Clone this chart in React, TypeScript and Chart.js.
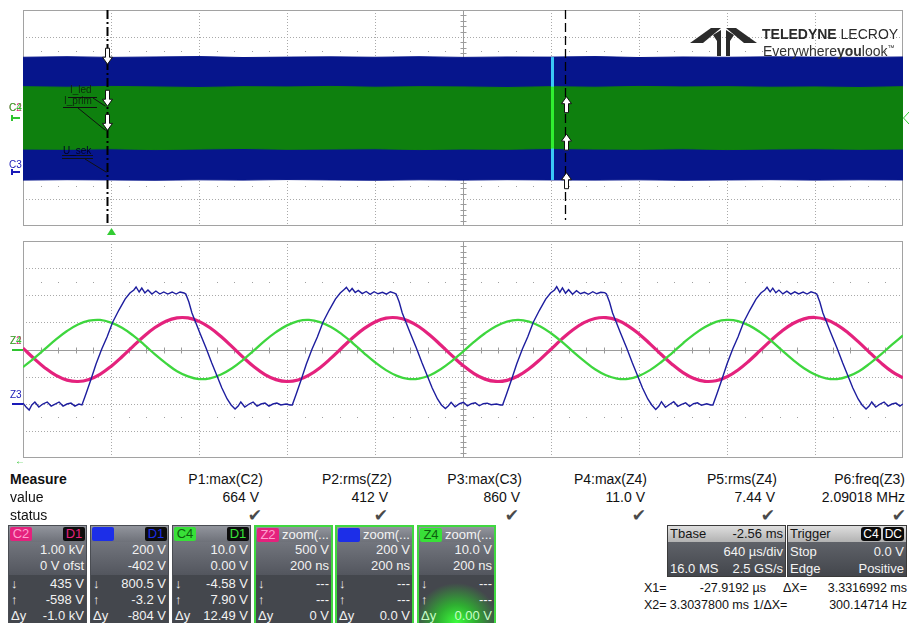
import React, { useEffect, useRef } from "react";
import { Chart, registerables } from "chart.js";

Chart.register(...registerables);

// ================= Acquisition window (C2, C3, C4) — time in µs, 640 µs/div =================
const acqTime = [-640, -320, 0, 320, 640, 960, 1280, 1600, 1920, 2240, 2560, 2880, 3200, 3520, 3840, 4160, 4480, 4800, 5120, 5440, 5760];
const c2Max = [588, 592, 585, 590, 594, 587, 591, 589, 593, 586, 590, 592, 588, 591, 585, 589, 593, 587, 590, 588, 591];
const c2Min = [-596, -592, -599, -594, -590, -597, -593, -598, -591, -595, -596, -592, -598, -594, -590, -597, -593, -596, -592, -595, -594];
const c3Max = [852, 856, 851, 854, 857, 850, 853, 855, 852, 856, 851, 854, 853, 857, 850, 854, 852, 855, 853, 851, 854];
const c3Min = [-58, -55, -57, -59, -56, -58, -54, -57, -59, -56, -58, -55, -57, -58, -56, -59, -57, -55, -58, -56, -57];
const c4Max = [11.6, 11.4, 11.7, 11.5, 11.3, 11.6, 11.5, 11.7, 11.4, 11.6, 11.5, 11.3, 11.6, 11.4, 11.7, 11.5, 11.6, 11.4, 11.5, 11.3, 11.6];
const c4Min = [-11.5, -11.6, -11.4, -11.7, -11.5, -11.3, -11.6, -11.5, -11.4, -11.7, -11.5, -11.6, -11.3, -11.5, -11.6, -11.4, -11.7, -11.5, -11.4, -11.6, -11.5];

const triggerAt = 0; // µs
const cursorX1 = -27.9192; // µs
const cursorX2 = 3303.78; // µs
const zoomAt = 3207; // µs, position of the zoom window
// cursor read-outs for C2, C3, C4 (↓ at X1, ↑ at X2)
const atX1 = [435, 800.5, -4.58];
const atX2 = [-598, -3.2, 7.9];

// ================= Zoom traces (Z2, Z3, Z4) — time in ns, 200 ns/div =================
const zoomTime = [0, 25, 50, 75, 100, 125, 150, 175, 200, 225, 250, 275, 300, 325, 350, 375, 400, 425, 450, 475, 500, 525, 550, 575, 600, 625, 650, 675, 700, 725, 750, 775, 800, 825, 850, 875, 900, 925, 950, 975, 1000, 1025, 1050, 1075, 1100, 1125, 1150, 1175, 1200, 1225, 1250, 1275, 1300, 1325, 1350, 1375, 1400, 1425, 1450, 1475, 1500, 1525, 1550, 1575, 1600, 1625, 1650, 1675, 1700, 1725, 1750, 1775, 1800, 1825, 1850, 1875, 1900, 1925, 1950, 1975, 2000];
const z2Volts = [25, -167, -340, -478, -564, -590, -553, -457, -312, -134, 58, 245, 405, 522, 583, 582, 518, 400, 238, 52, -141, -318, -461, -555, -590, -562, -473, -335, -160, 32, 220, 385, 508, 578, 585, 531, 419, 263, 78, -114, -295, -444, -546, -589, -569, -489, -356, -186, 5, 195, 364, 494, 572, 588, 542, 437, 287, 105, -88, -271, -426, -535, -587, -576, -503, -377, -211, -22, 169, 342, 479, 565, 590, 552, 455, 310, 131, -61, -247, -407, -523];
const z4Volts = [-6.5, -3.3, 0.2, 3.7, 6.8, 9.2, 10.6, 10.9, 9.9, 8.0, 5.2, 1.8, -1.8, -5.1, -8.0, -9.9, -10.9, -10.6, -9.2, -6.9, -3.8, -0.3, 3.3, 6.4, 8.9, 10.5, 10.9, 10.1, 8.3, 5.6, 2.3, -1.3, -4.7, -7.6, -9.7, -10.8, -10.7, -9.5, -7.2, -4.2, -0.8, 2.8, 6.0, 8.6, 10.3, 10.9, 10.3, 8.6, 6.0, 2.8, -0.8, -4.2, -7.3, -9.5, -10.7, -10.8, -9.7, -7.6, -4.7, -1.3, 2.3, 5.6, 8.3, 10.2, 10.9, 10.5, 8.9, 6.4, 3.3, -0.3, -3.8, -6.9, -9.2, -10.6, -10.9, -9.9, -8.0, -5.1, -1.8, 1.8, 5.2];
const z3Time = [
  0, 7, 14, 20, 27, 36, 45, 55, 64, 73, 82, 91, 100, 109, 118, 127, 134,
  143, 154, 166, 179, 191, 204, 218, 232, 243, 252, 257, 264, 270, 277, 284, 293, 302, 311, 320, 329, 339, 348, 357, 366, 370, 377, 384, 393, 402, 416, 429, 441, 452, 464, 473, 482, 489, 495, 504, 514, 523, 532, 541, 550, 559, 568, 577, 586, 598, 607,
  612, 621, 632, 644, 657, 669, 682, 696, 710, 721, 730, 735, 742, 748, 755, 762, 771, 780, 789, 798, 807, 817, 826, 835, 844, 848, 855, 862, 871, 880, 894, 907, 919, 930, 942, 951, 960, 967, 973, 982, 992, 1001, 1010, 1019, 1028, 1037, 1046, 1055, 1064, 1076, 1085,
  1090, 1099, 1110, 1122, 1135, 1147, 1160, 1174, 1188, 1199, 1208, 1213, 1220, 1226, 1233, 1240, 1249, 1258, 1267, 1276, 1285, 1295, 1304, 1313, 1322, 1326, 1333, 1340, 1349, 1358, 1372, 1385, 1397, 1408, 1420, 1429, 1438, 1445, 1451, 1460, 1470, 1479, 1488, 1497, 1506, 1515, 1524, 1533, 1542, 1554, 1563,
  1568, 1577, 1588, 1600, 1613, 1625, 1638, 1652, 1666, 1677, 1686, 1691, 1698, 1704, 1711, 1718, 1727, 1736, 1745, 1754, 1763, 1773, 1782, 1791, 1800, 1804, 1811, 1818, 1827, 1836, 1850, 1863, 1875, 1886, 1898, 1907, 1916, 1923, 1929, 1938, 1948, 1957, 1966, 1975, 1984, 1993, 2000,
];
const z3Volts = [
  7, -22, -44, -7, 15, -22, 0, 15, -15, 0, 15, -15, 0, 7, -15, 0, -7,
  74, 177, 295, 406, 494, 605, 693, 774, 819, 841, 863, 826, 855, 819, 841, 811, 833, 811, 826, 811, 826, 811, 826, 819, 811, 752, 671, 597, 523, 413, 302, 206, 118, 37, -7, -37, -15, 15, -22, 0, 15, -15, 0, 7, -15, 0, 7, -7, 0, -7,
  -7, 74, 177, 295, 406, 494, 605, 693, 774, 819, 845, 860, 829, 852, 822, 838, 814, 830, 809, 828, 813, 824, 810, 828, 817, 811, 752, 671, 597, 523, 413, 302, 206, 118, 37, -7, -33, -12, 12, -20, 2, 13, -13, 2, 9, -13, 2, 6, -5, 0, -7,
  -7, 74, 177, 295, 406, 494, 605, 693, 774, 819, 841, 866, 824, 857, 817, 843, 809, 835, 813, 824, 809, 828, 813, 824, 821, 811, 752, 671, 597, 523, 413, 302, 206, 118, 37, -7, -40, -17, 17, -24, -2, 17, -17, -2, 9, -17, 2, 9, -9, 2, -7,
  -7, 74, 177, 295, 406, 494, 605, 693, 774, 819, 841, 861, 827, 854, 820, 840, 812, 832, 810, 827, 812, 825, 811, 827, 818, 811, 752, 671, 597, 523, 413, 302, 206, 118, 37, -7, -37, -15, 15, -22, 0, 15, -15, 0, 7, -15, 0,
];

// ================= Text read-outs =================
const measNames = ["P1:max(C2)", "P2:rms(Z2)", "P3:max(C3)", "P4:max(Z4)", "P5:rms(Z4)", "P6:freq(Z3)"];
const measValues = ["664 V", "412 V", "860 V", "11.0 V", "7.44 V", "2.09018 MHz"];
const chanTags = ["C2", "C3", "C4", "Z2", "Z3", "Z4"];
const chanHead = ["D1", "D1", "D1", "zoom(...", "zoom(...", "zoom(..."];
const chanScale = ["1.00 kV", "200 V", "10.0 V", "500 V", "200 V", "10.0 V"];
const chanSecond = ["0 V ofst", "-402 V", "0.00 V", "200 ns", "200 ns", "200 ns"];
const chanDown = ["435 V", "800.5 V", "-4.58 V", "---", "---", "---"];
const chanUp = ["-598 V", "-3.2 V", "7.90 V", "---", "---", "---"];
const chanDelta = ["-1.0 kV", "-804 V", "12.49 V", "0 V", "0.0 V", "0.00 V"];

// ================= styling =================
const PINK = "#e4227d";
const BLUE_LINE = "#1d1d9e";
const GREEN_LINE = "#3ed63e";
const BLUE_BAND = "#06158c";
const GREEN_BAND = "#0e800e";
const measRight = [263, 392, 522, 647, 777, 905];
const valRight = [259, 388, 520, 645, 775, 905];
const checkRight = [262, 388, 519, 646, 775, 906];
const boxLefts = [8, 90, 172, 254, 335, 417];
const tagBg = [PINK, "#1c2ee8", "#38e038", PINK, "#1c2ee8", "#38e038"];
const tagFg = ["#ff9fd0", "#1c2ee8", "#0d5e0d", "#ff9fd0", "#1c2ee8", "#0d5e0d"];

const pts = (xs: number[], ys: number[]) => xs.map((x, i) => ({ x, y: ys[i] }));

function drawGrid(chart: any) {
  const { ctx, chartArea: a, scales } = chart;
  const xs = scales.x;
  const gy = scales.yGrid;
  const xDiv = (xs.max - xs.min) / 10;
  const yDiv = (gy.max - gy.min) / 8;
  const px = (v: number) => Math.round(xs.getPixelForValue(v)) + 0.5;
  const py = (v: number) => Math.round(gy.getPixelForValue(v)) + 0.5;
  ctx.save();
  ctx.fillStyle = "#ffffff";
  ctx.fillRect(a.left, a.top, a.right - a.left, a.bottom - a.top);
  ctx.lineWidth = 1;
  ctx.strokeStyle = "#a9a9a9";
  ctx.setLineDash([1, 2]);
  for (let i = 1; i < 10; i++) {
    if (i === 5) continue;
    const x = px(xs.min + i * xDiv);
    ctx.beginPath(); ctx.moveTo(x, a.top); ctx.lineTo(x, a.bottom); ctx.stroke();
  }
  for (let j = 1; j < 8; j++) {
    if (j === 4) continue;
    const y = py(gy.min + j * yDiv);
    ctx.beginPath(); ctx.moveTo(a.left, y); ctx.lineTo(a.right, y); ctx.stroke();
  }
  ctx.setLineDash([]);
  ctx.strokeStyle = "#9c9c9c";
  const cx = px(xs.min + 5 * xDiv);
  const cy = py(gy.min + 4 * yDiv);
  ctx.beginPath(); ctx.moveTo(cx, a.top); ctx.lineTo(cx, a.bottom); ctx.stroke();
  ctx.beginPath(); ctx.moveTo(a.left, cy); ctx.lineTo(a.right, cy); ctx.stroke();
  for (let k = 1; k < 50; k++) {
    if (k % 5 === 0) continue;
    const x = px(xs.min + (k * xDiv) / 5);
    ctx.beginPath(); ctx.moveTo(x, cy - 3); ctx.lineTo(x, cy + 3); ctx.stroke();
  }
  for (let k = 1; k < 40; k++) {
    if (k % 5 === 0) continue;
    const y = py(gy.min + (k * yDiv) / 5);
    ctx.beginPath(); ctx.moveTo(cx - 3, y); ctx.lineTo(cx + 3, y); ctx.stroke();
  }
  ctx.fillStyle = "#a0a0a0";
  [gy.min + 1.5 * yDiv, gy.max - 1.5 * yDiv].forEach((v) => {
    const y = Math.round(gy.getPixelForValue(v));
    for (let k = 1; k < 50; k++) {
      if (k % 5 === 0) continue;
      const x = Math.round(xs.getPixelForValue(xs.min + (k * xDiv) / 5));
      ctx.fillRect(x, y, 1, 1);
    }
  });
  ctx.strokeStyle = "#a2a2a2";
  ctx.strokeRect(a.left + 0.5, a.top + 0.5, a.right - a.left - 1, a.bottom - a.top - 1);
  ctx.restore();
}

const gridPlugin = { id: "scopeGrid", beforeDatasetsDraw: (chart: any) => drawGrid(chart) };

function blockArrow(ctx: any, cx: number, tip: number, dir: number) {
  const hh = 7, hw = 5, sw = 2, len = 16;
  ctx.beginPath();
  ctx.moveTo(cx, tip);
  ctx.lineTo(cx - hw, tip - dir * hh);
  ctx.lineTo(cx - sw, tip - dir * hh);
  ctx.lineTo(cx - sw, tip - dir * len);
  ctx.lineTo(cx + sw, tip - dir * len);
  ctx.lineTo(cx + sw, tip - dir * hh);
  ctx.lineTo(cx + hw, tip - dir * hh);
  ctx.closePath();
  ctx.fillStyle = "#ffffff";
  ctx.fill();
  ctx.strokeStyle = "#111";
  ctx.lineWidth = 1;
  ctx.stroke();
}

function seg(ctx: any, x1: number, y1: number, x2: number, y2: number) {
  ctx.beginPath(); ctx.moveTo(x1, y1); ctx.lineTo(x2, y2); ctx.stroke();
}

function poly(ctx: any, p: number[][]) {
  ctx.beginPath();
  ctx.moveTo(p[0][0], p[0][1]);
  for (let i = 1; i < p.length; i++) ctx.lineTo(p[i][0], p[i][1]);
  ctx.closePath();
  ctx.fill();
}

const topOverlay = {
  id: "topOverlay",
  afterDatasetsDraw(chart: any) {
    const { ctx, chartArea: a, scales } = chart;
    const x = scales.x;
    const axes = [scales.yC2, scales.yC3, scales.yC4];
    ctx.save();
    let zi = 0;
    acqTime.forEach((t, i) => { if (Math.abs(t - zoomAt) < Math.abs(acqTime[zi] - zoomAt)) zi = i; });
    const zx = Math.round(x.getPixelForValue(zoomAt));
    const t3 = scales.yC3.getPixelForValue(c3Max[zi]);
    const b3 = scales.yC3.getPixelForValue(c3Min[zi]);
    ctx.fillStyle = "#3ac8f6";
    ctx.fillRect(zx - 1, t3, 3, b3 - t3);
    const t4 = scales.yC4.getPixelForValue(c4Max[zi]);
    const b4 = scales.yC4.getPixelForValue(c4Min[zi]);
    ctx.fillStyle = "#30f030";
    ctx.fillRect(zx - 1, t4, 3, b4 - t4);

    const x1 = Math.round(x.getPixelForValue(cursorX1)) + 0.5;
    const x2 = Math.round(x.getPixelForValue(cursorX2)) + 0.5;
    ctx.strokeStyle = "#000";
    ctx.lineWidth = 2;
    ctx.setLineDash([9, 3, 2, 3]);
    seg(ctx, x1, a.top, x1, a.bottom);
    ctx.lineWidth = 1.3;
    ctx.setLineDash([9, 4]);
    seg(ctx, x2, a.top, x2, a.bottom - 6);
    ctx.setLineDash([]);

    ctx.strokeStyle = "#111";
    ctx.lineWidth = 1;
    seg(ctx, 68, 97.5, 97, 97.5);
    seg(ctx, 93, 98, x1 - 2, axes[0].getPixelForValue(atX1[0]));
    seg(ctx, 63, 107.5, 97, 107.5);
    seg(ctx, 78, 108, x1 - 2, axes[2].getPixelForValue(atX1[2]));
    seg(ctx, 62, 155.5, 93, 155.5);
    seg(ctx, 62, 158.5, 93, 158.5);
    seg(ctx, 85, 159, x1 - 1, scales.yC3.getPixelForValue(0));

    axes.forEach((ax: any, i: number) => {
      blockArrow(ctx, x1, ax.getPixelForValue(atX1[i]), 1);
      blockArrow(ctx, x2 + 1, ax.getPixelForValue(atX2[i]), -1);
    });

    const m24 = Math.round(scales.yC4.getPixelForValue(0));
    ctx.fillStyle = "#2fc42f";
    ctx.fillRect(11, m24 - 1, 9, 2);
    ctx.fillRect(11, m24 - 3, 2, 6);
    const m3 = Math.round(scales.yC3.getPixelForValue(0));
    ctx.fillStyle = "#1a1ab8";
    ctx.fillRect(11, m3 - 1, 9, 2);
    ctx.fillRect(11, m3 - 3, 2, 6);

    const tx = Math.round(x.getPixelForValue(triggerAt)) + 0.5;
    ctx.fillStyle = "#33cc33";
    poly(ctx, [[tx, a.bottom + 2], [tx - 4.5, a.bottom + 9], [tx + 4.5, a.bottom + 9]]);
    ctx.strokeStyle = "#33cc33";
    ctx.beginPath();
    ctx.moveTo(a.right + 6, m24 - 6);
    ctx.lineTo(a.right + 0.5, m24);
    ctx.lineTo(a.right + 6, m24 + 6);
    ctx.stroke();

    // logo mark
    ctx.fillStyle = "#2b2b2b";
    poly(ctx, [[690, 43], [711, 28], [721, 28], [703, 43]]);
    poly(ctx, [[757, 43], [736, 28], [726, 28], [744, 43]]);
    poly(ctx, [[713, 35], [721, 30], [721, 56], [717, 56], [717, 41]]);
    poly(ctx, [[734, 35], [726, 30], [726, 56], [730, 56], [730, 41]]);
    ctx.restore();
  },
};

const bottomOverlay = {
  id: "bottomOverlay",
  afterDatasetsDraw(chart: any) {
    const { ctx, scales } = chart;
    ctx.save();
    const m24 = Math.round(scales.yZ4.getPixelForValue(0));
    ctx.fillStyle = "#2fc42f";
    ctx.fillRect(12, m24 - 1, 11, 2);
    const m3 = Math.round(scales.yZ3.getPixelForValue(0));
    ctx.fillStyle = "#1a1ab8";
    ctx.fillRect(12, m3 - 1, 11, 2);
    ctx.restore();
  },
};

function baseOptions(padding: any, xMin: number, xMax: number, yAxes: any) {
  return {
    responsive: false,
    maintainAspectRatio: false,
    animation: false,
    events: [],
    layout: { padding },
    plugins: { legend: { display: false }, tooltip: { enabled: false } },
    scales: {
      x: { type: "linear", min: xMin, max: xMax, display: false },
      yGrid: { type: "linear", axis: "y", min: -4, max: 4, display: false },
      ...yAxes,
    },
  };
}

function topConfig(): any {
  const band = (label: string, data: any, axis: string, color: string, order: number, fill: any) => ({
    label, data, yAxisID: axis, borderColor: color, backgroundColor: color,
    borderWidth: 1, pointRadius: 0, tension: 0, fill, order,
  });
  return {
    type: "line",
    data: {
      datasets: [
        band("C4 max", pts(acqTime, c4Max), "yC4", GREEN_BAND, 0, "+1"),
        band("C4 min", pts(acqTime, c4Min), "yC4", GREEN_BAND, 0, false),
        band("C3 max", pts(acqTime, c3Max), "yC3", BLUE_BAND, 1, "+1"),
        band("C3 min", pts(acqTime, c3Min), "yC3", BLUE_BAND, 1, false),
        band("C2 max", pts(acqTime, c2Max), "yC2", PINK, 2, "+1"),
        band("C2 min", pts(acqTime, c2Min), "yC2", PINK, 2, false),
      ],
    },
    options: baseOptions({ left: 23, top: 10, right: 6, bottom: 12 }, -640, 5760, {
      yC2: { type: "linear", min: -4000, max: 4000, display: false },
      yC3: { type: "linear", min: -398, max: 1202, display: false },
      yC4: { type: "linear", min: -40, max: 40, display: false },
    }),
    plugins: [gridPlugin, topOverlay],
  };
}

function bottomConfig(): any {
  return {
    type: "line",
    data: {
      datasets: [
        { label: "Z3", data: pts(z3Time, z3Volts), yAxisID: "yZ3", borderColor: BLUE_LINE, borderWidth: 1.4, pointRadius: 0, tension: 0, fill: false, order: 0 },
        { label: "Z4", data: pts(zoomTime, z4Volts), yAxisID: "yZ4", borderColor: GREEN_LINE, borderWidth: 2.3, pointRadius: 0, tension: 0.4, fill: false, order: 1 },
        { label: "Z2", data: pts(zoomTime, z2Volts), yAxisID: "yZ2", borderColor: PINK, borderWidth: 3.2, pointRadius: 0, tension: 0.4, fill: false, order: 2 },
      ],
    },
    options: baseOptions({ left: 23, top: 3, right: 6, bottom: 4 }, 0, 2000, {
      yZ2: { type: "linear", min: -2000, max: 2000, display: false },
      yZ3: { type: "linear", min: -398, max: 1202, display: false },
      yZ4: { type: "linear", min: -40, max: 40, display: false },
    }),
    plugins: [gridPlugin, bottomOverlay],
  };
}

const abs = (x: number, yc: number, extra: any = {}, h = 16): any => ({
  position: "absolute", left: x, top: yc - h / 2, height: h, lineHeight: h + "px", whiteSpace: "nowrap", ...extra,
});
const absR = (xr: number, yc: number, extra: any = {}, h = 16): any => ({
  position: "absolute", right: 909 - xr, top: yc - h / 2, height: h, lineHeight: h + "px", whiteSpace: "nowrap", ...extra,
});

function ChanBox({ i }: { i: number }) {
  const zoom = i >= 3;
  const inset = zoom ? 2 : 1;
  const row = (yc: number, left: any, right: string, color = "#f2f2f2") => (
    <div style={{ position: "absolute", left: 2, right: 2, top: yc - 8 - inset, height: 16, lineHeight: "16px", display: "flex", justifyContent: "space-between", color }}>
      <span>{left}</span>
      <span>{right}</span>
    </div>
  );
  return (
    <div
      style={{
        position: "absolute", left: boxLefts[i], top: 525, width: 79, height: 100, boxSizing: "border-box",
        border: zoom ? "2px solid #40d840" : "1px solid #4a4d53", background: "#44474d", overflow: "hidden",
        fontSize: 13, color: "#f2f2f2",
      }}
    >
      <div style={{ position: "absolute", left: 0, right: 0, top: 0, height: 17 - inset, background: "linear-gradient(#92959d,#6e7179)" }} />
      <div style={{ position: "absolute", left: 0, right: 0, top: 17 - inset, height: 33, background: "linear-gradient(#72757d,#53565e)" }} />
      {i === 5 && (
        <div style={{ position: "absolute", left: 0, right: 0, top: 50 - inset, bottom: 0, background: "radial-gradient(ellipse 42px 40px at 50% 100%, #3dff3d 0%, rgba(40,210,40,0.75) 45%, rgba(40,120,40,0) 100%)" }} />
      )}
      <div style={{ position: "absolute", left: 1, top: 1, width: 22, height: 14, lineHeight: "14px", background: tagBg[i], color: tagFg[i], textAlign: "center", borderRadius: 2 }}>
        {chanTags[i]}
      </div>
      {zoom ? (
        <div style={{ position: "absolute", left: 26, top: 0, height: 16, lineHeight: "16px", color: "#f4f4f4" }}>{chanHead[i]}</div>
      ) : (
        <div style={{ position: "absolute", right: 1, top: 1, width: 22, height: 14, lineHeight: "14px", background: "#0c0c0c", color: tagBg[i], textAlign: "center", borderRadius: 2 }}>
          {chanHead[i]}
        </div>
      )}
      {row(25, "", chanScale[i])}
      {row(41, "", chanSecond[i])}
      {row(59, "↓", chanDown[i])}
      {row(75, "↑", chanUp[i])}
      {row(91, "Δy", chanDelta[i], i === 5 ? "#c8ffc8" : "#f2f2f2")}
    </div>
  );
}

function InfoBox({ left, width, title, titleRight, rows }: any) {
  return (
    <div style={{ position: "absolute", left, top: 525, width, height: 52, boxSizing: "border-box", border: "1px solid #3a3a3a", background: "linear-gradient(#6c6f76,#43464c)", color: "#f4f4f4", fontSize: 13 }}>
      <div style={{ position: "absolute", left: 0, right: 0, top: 0, height: 16, lineHeight: "16px", background: "linear-gradient(#dedede,#b2b2b2)", color: "#151515", display: "flex", justifyContent: "space-between", padding: "0 2px" }}>
        <span>{title}</span>
        <span>{titleRight}</span>
      </div>
      {rows.map((r: string[], k: number) => (
        <div key={k} style={{ position: "absolute", left: 2, right: 2, top: 17 + k * 17, height: 17, lineHeight: "17px", display: "flex", justifyContent: "space-between" }}>
          <span>{r[0]}</span>
          <span>{r[1]}</span>
        </div>
      ))}
    </div>
  );
}

export default function App() {
  const topRef = useRef<HTMLCanvasElement>(null);
  const botRef = useRef<HTMLCanvasElement>(null);

  useEffect(() => {
    const top = new Chart(topRef.current as any, topConfig());
    const bot = new Chart(botRef.current as any, bottomConfig());
    return () => {
      top.destroy();
      bot.destroy();
    };
  }, []);

  const small = { fontSize: 10, lineHeight: "10px" };
  const tag = (t: string) => (
    <span style={{ background: "#0a0a0a", color: "#fff", borderRadius: 3, padding: "0 2px", marginLeft: 2, fontSize: 12 }}>{t}</span>
  );

  return (
    <div style={{ position: "fixed", left: 0, top: 0, width: 909, height: 623, background: "#fff", overflow: "hidden", fontFamily: '"Liberation Sans", Arial, sans-serif', color: "#111" }}>
      <canvas ref={topRef} width={909} height={238} style={{ position: "absolute", left: 0, top: 0 }} />
      <canvas ref={botRef} width={909} height={224} style={{ position: "absolute", left: 0, top: 238 }} />

      {/* logo text */}
      <div style={abs(762, 34, { fontSize: 14, color: "#2a2a2a" }, 16)}>
        <b>TELEDYNE</b> LECROY
      </div>
      <div style={abs(763, 48, { fontSize: 14, color: "#333" }, 16)}>
        Everywhere<b>you</b>look<sup style={{ fontSize: 7 }}>™</sup>
      </div>

      {/* channel labels */}
      <div style={{ position: "absolute", left: 9, top: 103, ...small, color: PINK }}>C2</div>
      <div style={{ position: "absolute", left: 9, top: 103, ...small, color: "#2fc42f" }}>C4</div>
      <div style={{ position: "absolute", left: 9, top: 160, ...small, color: "#1a1ab8" }}>C3</div>
      <div style={{ position: "absolute", left: 10, top: 336, ...small, color: PINK }}>Z2</div>
      <div style={{ position: "absolute", left: 10, top: 336, ...small, color: "#2fc42f" }}>Z4</div>
      <div style={{ position: "absolute", left: 10, top: 390, ...small, color: "#1a1ab8" }}>Z3</div>
      <div style={{ position: "absolute", left: 15, top: 456, ...small, color: "#2fc42f" }}>←</div>

      {/* trace annotations */}
      <div style={abs(70, 90, { fontSize: 10, color: "#0c2a0c" }, 10)}>I_led</div>
      <div style={abs(64, 101, { fontSize: 10, color: "#0c2a0c" }, 10)}>I_prim</div>
      <div style={abs(63, 151, { fontSize: 10, color: "#00002a" }, 10)}>U_sek</div>

      {/* measurement table */}
      <div style={abs(10, 479, { fontSize: 14, fontWeight: "bold" }, 18)}>Measure</div>
      <div style={abs(10, 497, { fontSize: 14 }, 18)}>value</div>
      <div style={abs(10, 515, { fontSize: 14 }, 18)}>status</div>
      {measNames.map((n, i) => (
        <React.Fragment key={n}>
          <div style={absR(measRight[i], 479, { fontSize: 14 }, 18)}>{n}</div>
          <div style={absR(valRight[i], 497, { fontSize: 14 }, 18)}>{measValues[i]}</div>
          <div style={absR(checkRight[i], 515, { fontSize: 17, fontFamily: '"DejaVu Sans", sans-serif', color: "#4a4a4a" }, 18)}>✔</div>
        </React.Fragment>
      ))}

      {/* channel descriptor boxes */}
      {chanTags.map((t, i) => (
        <ChanBox key={t} i={i} />
      ))}

      <InfoBox left={667} width={119} title="Tbase" titleRight="-2.56 ms" rows={[["", "640 µs/div"], ["16.0 MS", "2.5 GS/s"]]} />
      <InfoBox left={787} width={120} title="Trigger" titleRight={<span>{tag("C4")}{tag("DC")}</span>} rows={[["Stop", "0.0 V"], ["Edge", "Positive"]]} />

      {/* cursor read-outs */}
      <div style={abs(644, 588, { fontSize: 12.5 })}>X1=</div>
      <div style={absR(766, 588, { fontSize: 12.5 })}>-27.9192 µs</div>
      <div style={abs(783, 588, { fontSize: 12.5 })}>ΔX=</div>
      <div style={absR(907, 588, { fontSize: 12.5 })}>3.3316992 ms</div>
      <div style={abs(644, 605, { fontSize: 12.5 })}>X2=</div>
      <div style={absR(749, 605, { fontSize: 12.5 })}>3.3037800 ms</div>
      <div style={abs(753, 605, { fontSize: 12.5 })}>1/ΔX=</div>
      <div style={absR(907, 605, { fontSize: 12.5 })}>300.14714 Hz</div>
    </div>
  );
}
